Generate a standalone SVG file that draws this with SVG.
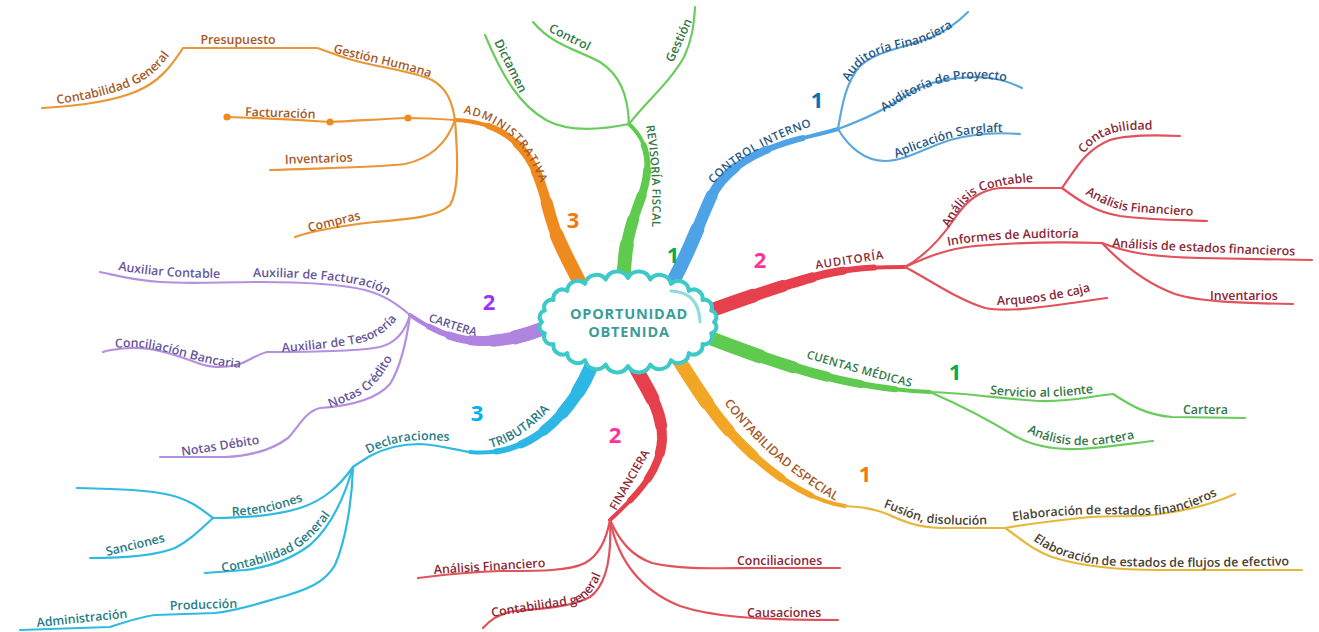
<svg xmlns="http://www.w3.org/2000/svg" width="1319" height="632" viewBox="0 0 1319 632">
<style>
.m{fill:none;stroke-linecap:round;stroke-linejoin:round}
.w1{stroke-width:4}
.w2{stroke-width:6;stroke-dasharray:86 300}
.w3{stroke-width:8;stroke-dasharray:72 300}
.w4{stroke-width:10;stroke-dasharray:58 300}
.w5{stroke-width:12;stroke-dasharray:44 300}
.w6{stroke-width:14;stroke-dasharray:30 300}
.s{fill:none;stroke-width:2.2;stroke-linecap:round;stroke-linejoin:round}
.or{stroke:#ef8a1f}.gr{stroke:#5fcb4e}.bl{stroke:#4ea3e6}.rd{stroke:#e6404c}.ye{stroke:#f2a626}.cy{stroke:#2cb7e4}.pu{stroke:#b083e0}
.sor{stroke:#eb9634}.sgr{stroke:#6bcc5e}.sbl{stroke:#5ca8da}.srd{stroke:#e2525c}.sye{stroke:#e6b83a}.scy{stroke:#2fbbe0}.spu{stroke:#b590e0}
.t{font-family:"Open Sans","Noto Sans","DejaVu Sans",sans-serif;font-size:12.4px;font-weight:600}
.c{font-size:11.5px}
.n{font-family:"Open Sans","Noto Sans","DejaVu Sans",sans-serif;font-size:22px;font-weight:700;text-anchor:middle}
.fo{fill:#a55a2a}.fg{fill:#337846}.fb{fill:#2a5886}.fr{fill:#8a2836}.fy{fill:#4a4032}.fc{fill:#267c86}.fp{fill:#67569a}
</style>
<defs>
<path id="mAdmin" pathLength="100" d="M588,300 C572,265 558,245 550,215 C542,185 535,160 515,142 C500,128 480,121 455,120"/>
<path id="mRev" pathLength="100" d="M624,300 C622,255 628,232 640,200 C652,170 650,143 629,124"/>
<path id="mCI" pathLength="100" d="M662,300 C685,265 698,225 712,195 C728,165 760,150 795,140 C815,135 828,132 838,129"/>
<path id="mAud" pathLength="100" d="M690,318 C740,300 790,282 830,273 C860,267 885,267 905,267"/>
<path id="mCM" pathLength="100" d="M690,330 C740,350 800,372 850,382 C880,388 905,391 930,392"/>
<path id="mCE" pathLength="100" d="M665,340 C688,372 703,402 730,432 C765,470 805,500 845,506"/>
<path id="mFin" pathLength="100" d="M625,345 C638,380 663,402 662,440 C660,472 636,496 610,520"/>
<path id="mTrib" pathLength="100" d="M600,340 C590,380 565,420 530,440 C510,451 490,454 470,452"/>
<path id="mCart" pathLength="100" d="M560,322 C535,332 510,342 480,341 C452,340 432,330 410,315"/>

<path id="tpAdmin" d="M463,113 C488,118 508,130 521,147 C532,162 539,178 546,198 l4,12"/>
<path id="tpRev" d="M646,126 C652,160 654,200 651,245"/>
<path id="tpCI" d="M713,184 Q750,145 822,123 l8,-2"/>
<path id="tpAud" d="M816,269 L895,257"/>
<path id="tpCM" d="M806,358 Q860,374 918,389"/>
<path id="tpCE" d="M724,403 C752,440 786,472 834,500 l8,4"/>
<path id="tpFin" d="M616,511 L656,442"/>
<path id="tpTrib" d="M491,448 Q522,440 552,407"/>
<path id="tpCart" d="M428,321 Q453,330 482,338"/>

<path id="tpGH" d="M333,52 C360,61 400,66 437,80 l8,4"/>
<path id="tpCG1" d="M57,104 C95,99 120,92 140,82 C155,74 163,64 172,52 l6,-9"/>
<path id="tpComp" d="M309,232 L370,217"/>
<path id="tpDict" d="M494,42 L527,108"/>
<path id="tpCtrl" d="M548,31 L598,56"/>
<path id="tpGest" d="M673,63 L697,11"/>
<path id="tpAF" d="M849,82 C858,62 876,53 902,48 C928,43 948,32 968,16 l8,-6"/>
<path id="tpAP" d="M884,112 C905,98 925,86 950,81 C970,77 990,78 1015,83"/>
<path id="tpAS" d="M896,158 C920,148 945,138 970,134 C985,132 995,132 1014,132"/>
<path id="tpAC" d="M949,228 C958,210 968,196 985,190 C1005,184 1025,181 1058,182"/>
<path id="tpContab" d="M1084,154 C1095,138 1110,132 1130,130 L1178,129"/>
<path id="tpAF2" d="M1085,194 C1100,203 1115,210 1135,212 L1212,217"/>
<path id="tpIA" d="M948,246 Q1000,236 1098,238"/>
<path id="tpAEF" d="M1112,247 C1160,250 1220,253 1308,256"/>
<path id="tpArq" d="M997,305 C1030,304 1060,300 1098,289"/>
<path id="tpSC" d="M990,394 Q1040,401 1108,391"/>
<path id="tpAdC" d="M1027,432 C1045,442 1065,446 1090,445 C1110,444 1125,441 1148,435"/>
<path id="tpFD" d="M883,507 C900,513 910,520 930,523 C950,525 970,525 998,524"/>
<path id="tpEEF" d="M1013,521 C1050,515 1090,513 1140,515 C1170,516 1195,508 1232,488"/>
<path id="tpEFE" d="M1033,540 C1050,553 1070,560 1100,565 C1150,568 1220,567 1298,565"/>
<path id="tpFinAF" d="M434,574 L560,566"/>
<path id="tpCGen" d="M492,617 C520,612 550,608 575,604 C588,600 597,588 606,562"/>
<path id="tpDecl" d="M368,454 C385,445 400,441 420,440 C435,440 445,441 468,442"/>
<path id="tpRet" d="M232,516 C255,515 280,511 310,498"/>
<path id="tpSanc" d="M107,556 L172,540"/>
<path id="tpCG2" d="M222,572 C250,568 275,560 295,550 C310,540 320,530 336,507"/>
<path id="tpAdm" d="M37,627 L135,617"/>
<path id="tpAuxF" d="M253,277 C300,277 340,280 365,286 C378,290 387,294 400,304"/>
<path id="tpAuxC" d="M118,270 C140,274 170,278 228,278"/>
<path id="tpAuxT" d="M282,352 C310,350 340,347 360,343 C378,338 390,330 403,311"/>
<path id="tpConcB" d="M115,348 C140,345 160,350 185,357 C205,363 225,368 250,368"/>
<path id="tpNC" d="M330,408 C345,402 360,397 372,387 C382,377 388,367 397,349"/>
<path id="tpND" d="M182,456 L265,443"/>
</defs>

<g id="connectors">
  <g id="main-branches">
    <use href="#mAdmin" class="m w1 or"/><use href="#mAdmin" class="m w2 or"/><use href="#mAdmin" class="m w3 or"/><use href="#mAdmin" class="m w4 or"/><use href="#mAdmin" class="m w5 or"/><use href="#mAdmin" class="m w6 or"/>
    <use href="#mRev" class="m w1 gr"/><use href="#mRev" class="m w2 gr"/><use href="#mRev" class="m w3 gr"/><use href="#mRev" class="m w4 gr"/><use href="#mRev" class="m w5 gr"/><use href="#mRev" class="m w6 gr"/>
    <use href="#mCI" class="m w1 bl"/><use href="#mCI" class="m w2 bl"/><use href="#mCI" class="m w3 bl"/><use href="#mCI" class="m w4 bl"/><use href="#mCI" class="m w5 bl"/><use href="#mCI" class="m w6 bl"/>
    <use href="#mAud" class="m w1 rd"/><use href="#mAud" class="m w2 rd"/><use href="#mAud" class="m w3 rd"/><use href="#mAud" class="m w4 rd"/><use href="#mAud" class="m w5 rd"/><use href="#mAud" class="m w6 rd"/>
    <use href="#mCM" class="m w1 gr"/><use href="#mCM" class="m w2 gr"/><use href="#mCM" class="m w3 gr"/><use href="#mCM" class="m w4 gr"/><use href="#mCM" class="m w5 gr"/><use href="#mCM" class="m w6 gr"/>
    <use href="#mCE" class="m w1 ye"/><use href="#mCE" class="m w2 ye"/><use href="#mCE" class="m w3 ye"/><use href="#mCE" class="m w4 ye"/><use href="#mCE" class="m w5 ye"/><use href="#mCE" class="m w6 ye"/>
    <use href="#mFin" class="m w1 rd"/><use href="#mFin" class="m w2 rd"/><use href="#mFin" class="m w3 rd"/><use href="#mFin" class="m w4 rd"/><use href="#mFin" class="m w5 rd"/><use href="#mFin" class="m w6 rd"/>
    <use href="#mTrib" class="m w1 cy"/><use href="#mTrib" class="m w2 cy"/><use href="#mTrib" class="m w3 cy"/><use href="#mTrib" class="m w4 cy"/><use href="#mTrib" class="m w5 cy"/><use href="#mTrib" class="m w6 cy"/>
    <use href="#mCart" class="m w1 pu"/><use href="#mCart" class="m w2 pu"/><use href="#mCart" class="m w3 pu"/><use href="#mCart" class="m w4 pu"/><use href="#mCart" class="m w5 pu"/><use href="#mCart" class="m w6 pu"/>
  </g>
  <g id="sub-administrativa">
    <path class="s sor" d="M455,120 C452,100 446,88 432,80 C415,72 385,68 360,62 C340,57 330,52 317,48 L183,48 C172,65 160,82 135,92 C110,102 80,106 42,108"/>
    <path class="s sor" d="M455,120 C440,119 420,118 408,118 C380,119 355,121 330,122 C300,120 260,118 227,117"/>
    <path class="s sor" d="M455,120 C447,143 432,158 405,164 C370,168 320,168 270,170"/>
    <path class="s sor" d="M455,120 C458,160 459,190 450,205 C438,217 410,219 375,222 C340,226 312,231 295,237"/>
    <circle cx="408" cy="118" r="3.6" fill="#ef8a1f"/>
    <circle cx="330" cy="122" r="3.6" fill="#ef8a1f"/>
    <circle cx="227" cy="117" r="3.6" fill="#ef8a1f"/>
  </g>
  <g id="sub-revisoria">
    <path class="s sgr" d="M629,124 C600,130 568,132 546,120 C520,105 503,78 485,35"/>
    <path class="s sgr" d="M629,124 C628,95 620,75 600,62 C578,50 552,45 533,22"/>
    <path class="s sgr" d="M629,124 C648,100 670,82 684,57 C692,40 694,25 695,7"/>
  </g>
  <g id="sub-control">
    <path class="s sbl" d="M838,129 C842,105 846,82 860,66 C878,50 905,48 932,37 C948,30 958,22 968,12"/>
    <path class="s sbl" d="M838,129 C860,121 882,112 905,96 C928,80 960,75 990,78 C1005,80 1014,84 1022,88"/>
    <path class="s sbl" d="M838,129 C848,146 864,161 885,161 C905,161 925,148 950,140 C972,134 995,132 1020,134"/>
  </g>
  <g id="sub-auditoria">
    <path class="s srd" d="M905,267 C925,256 940,240 955,218 C967,200 980,190 1000,188 L1062,188"/>
    <path class="s srd" d="M1062,188 C1075,170 1085,150 1110,140 C1130,134 1160,135 1180,136"/>
    <path class="s srd" d="M1062,188 C1078,200 1095,212 1120,216 C1150,220 1180,220 1207,221"/>
    <path class="s srd" d="M905,267 C925,258 945,249 975,246 C1020,242 1070,242 1102,243"/>
    <path class="s srd" d="M1102,243 C1125,252 1150,257 1200,258 L1312,260"/>
    <path class="s srd" d="M1102,243 C1120,262 1145,283 1175,294 C1200,302 1240,303 1293,304"/>
    <path class="s srd" d="M905,267 C930,280 958,300 985,308 C1010,313 1050,306 1107,298"/>
  </g>
  <g id="sub-cuentas">
    <path class="s sgr" d="M930,392 C970,393 1000,399 1040,401 C1070,402 1092,396 1113,394"/>
    <path class="s sgr" d="M1113,394 C1130,405 1146,415 1172,417 L1245,418"/>
    <path class="s sgr" d="M930,392 C960,405 992,422 1015,436 C1032,446 1052,450 1080,449 C1110,447 1135,443 1153,441"/>
  </g>
  <g id="sub-especial">
    <path class="s sye" d="M845,506 C860,507 872,508 887,514 C903,521 915,527 940,528 L1005,528"/>
    <path class="s sye" d="M1005,528 C1040,522 1060,520 1090,517 C1120,515 1135,518 1160,514 C1190,510 1215,503 1235,494"/>
    <path class="s sye" d="M1005,528 C1020,538 1032,550 1052,557 C1080,566 1120,570 1160,570 L1302,570"/>
  </g>
  <g id="sub-financiera">
    <path class="s srd" d="M610,520 C606,542 598,556 585,563 C570,571 540,571 500,571 C470,572 440,575 418,578"/>
    <path class="s srd" d="M610,520 C612,560 606,585 590,597 C572,607 540,609 515,611 C500,613 490,620 483,628"/>
    <path class="s srd" d="M610,520 C620,542 632,556 652,563 C682,570 720,568 760,568 L840,568"/>
    <path class="s srd" d="M610,520 C618,560 640,590 680,606 C710,616 750,620 838,620"/>
  </g>
  <g id="sub-tributaria">
    <path class="s scy" d="M470,452 C455,450 440,445 420,444 C400,444 385,448 370,456 C362,461 357,464 353,467"/>
    <path class="s scy" d="M353,467 C340,485 325,500 300,508 C275,516 245,518 213,518"/>
    <path class="s scy" d="M213,518 C200,508 190,500 170,495 C150,490 120,489 77,488"/>
    <path class="s scy" d="M213,518 C200,530 190,540 175,548 C155,556 120,558 90,558"/>
    <path class="s scy" d="M353,467 C345,495 333,525 310,545 C290,560 270,567 245,570 L205,573"/>
    <path class="s scy" d="M353,467 C352,500 346,540 335,565 C325,583 305,590 285,596 C260,603 240,610 215,613 L155,615 C140,617 125,622 110,627 L20,630"/>
  </g>
  <g id="sub-cartera">
    <path class="s spu" d="M410,315 C398,305 385,295 365,290 C340,284 300,282 260,282 C220,282 190,284 160,282 C130,280 115,275 100,272"/>
    <path class="s spu" d="M410,315 C405,332 396,343 380,347 C360,351 320,352 267,352 C255,355 248,362 237,365 C222,368 210,368 195,362 C170,353 150,347 130,348 C115,349 108,350 103,352"/>
    <path class="s spu" d="M410,315 C406,345 400,368 390,384 C376,400 350,406 320,408 C305,412 300,425 288,438 C272,450 250,456 225,457 L160,457"/>
  </g>
</g>

<g id="center">
  <path d="M714,322 A6.5,6.5 0 0 1 711.1,333.4 A7.5,7.5 0 0 1 702.5,344 A9,9 0 0 1 688.8,353.1 A10.5,10.5 0 0 1 671,360.1 A11.7,11.7 0 0 1 650.3,364.5 A12.3,12.3 0 0 1 628,366 A12.3,12.3 0 0 1 605.7,364.5 A11.7,11.7 0 0 1 585,360.1 A10.5,10.5 0 0 1 567.2,353.1 A9,9 0 0 1 553.5,344 A7.5,7.5 0 0 1 544.9,333.4 A6.5,6.5 0 0 1 542,322 A6.5,6.5 0 0 1 544.9,310.6 A7.5,7.5 0 0 1 553.5,300 A9,9 0 0 1 567.2,290.9 A10.5,10.5 0 0 1 585,283.9 A11.7,11.7 0 0 1 605.7,279.5 A12.3,12.3 0 0 1 628,278 A12.3,12.3 0 0 1 650.3,279.5 A11.7,11.7 0 0 1 671,283.9 A10.5,10.5 0 0 1 688.8,290.9 A9,9 0 0 1 702.5,300 A7.5,7.5 0 0 1 711.1,310.6 A6.5,6.5 0 0 1 714,322 Z" fill="#ffffff" stroke="#3ec9c9" stroke-width="4" stroke-linejoin="round"/>
  <path d="M671,291 Q699,292 700,322" fill="none" stroke="#8fdcdc" stroke-width="3" stroke-linecap="round"/>
  <text x="629" y="319" text-anchor="middle" font-family="'Open Sans','Noto Sans','DejaVu Sans',sans-serif" font-size="14.5" font-weight="700" letter-spacing="0.8" fill="#3c9c98">OPORTUNIDAD</text>
  <text x="629" y="337" text-anchor="middle" font-family="'Open Sans','Noto Sans','DejaVu Sans',sans-serif" font-size="14.5" font-weight="700" letter-spacing="0.8" fill="#3c9c98">OBTENIDA</text>
</g>

<g id="n-administrativa"><text class="t c fo" letter-spacing="1.1"><textPath href="#tpAdmin">ADMINISTRATIVA</textPath></text></g>
<g id="n-revisoria"><text class="t c fg" letter-spacing="0.2"><textPath href="#tpRev">REVISORÍA FISCAL</textPath></text></g>
<g id="n-control-interno"><text class="t c fb" letter-spacing="0.5"><textPath href="#tpCI">CONTROL INTERNO</textPath></text></g>
<g id="n-auditoria"><text class="t c fr" letter-spacing="0.8"><textPath href="#tpAud">AUDITORÍA</textPath></text></g>
<g id="n-cuentas-medicas"><text class="t c fg" letter-spacing="0.3"><textPath href="#tpCM">CUENTAS MÉDICAS</textPath></text></g>
<g id="n-contabilidad-especial"><text class="t fo" font-size="11"><textPath href="#tpCE">CONTABILIDAD ESPECIAL</textPath></text></g>
<g id="n-financiera"><text class="t c fr"><textPath href="#tpFin">FINANCIERA</textPath></text></g>
<g id="n-tributaria"><text class="t fc" font-size="11"><textPath href="#tpTrib">TRIBUTARIA</textPath></text></g>
<g id="n-cartera"><text class="t c fp"><textPath href="#tpCart">CARTERA</textPath></text></g>

<g id="n-gestion-humana"><text class="t fo"><textPath href="#tpGH">Gestión Humana</textPath></text></g>
<g id="n-presupuesto"><text class="t fo" x="238" y="44" text-anchor="middle">Presupuesto</text></g>
<g id="n-contabilidad-general-adm"><text class="t fo"><textPath href="#tpCG1">Contabilidad General</textPath></text></g>
<g id="n-facturacion"><text class="t fo" x="245" y="116" transform="rotate(2 245 116)">Facturación</text></g>
<g id="n-inventarios-adm"><text class="t fo" x="285" y="164" transform="rotate(-2 285 164)">Inventarios</text></g>
<g id="n-compras"><text class="t fo"><textPath href="#tpComp">Compras</textPath></text></g>

<g id="n-dictamen"><text class="t fg"><textPath href="#tpDict">Dictamen</textPath></text></g>
<g id="n-control"><text class="t fg"><textPath href="#tpCtrl">Control</textPath></text></g>
<g id="n-gestion"><text class="t fg"><textPath href="#tpGest">Gestión</textPath></text></g>

<g id="n-auditoria-financiera"><text class="t fb"><textPath href="#tpAF">Auditoría Financiera</textPath></text></g>
<g id="n-auditoria-proyecto"><text class="t fb"><textPath href="#tpAP">Auditoría de Proyecto</textPath></text></g>
<g id="n-aplicacion-sarglaft"><text class="t fb"><textPath href="#tpAS">Aplicación Sarglaft</textPath></text></g>

<g id="n-analisis-contable"><text class="t fr"><textPath href="#tpAC">Análisis Contable</textPath></text></g>
<g id="n-contabilidad"><text class="t fr"><textPath href="#tpContab">Contabilidad</textPath></text></g>
<g id="n-analisis-financiero-aud"><text class="t fr"><textPath href="#tpAF2">Análisis Financiero</textPath></text></g>
<g id="n-informes-auditoria"><text class="t fr"><textPath href="#tpIA">Informes de Auditoría</textPath></text></g>
<g id="n-analisis-estados"><text class="t fr"><textPath href="#tpAEF">Análisis de estados financieros</textPath></text></g>
<g id="n-inventarios-aud"><text class="t fr" x="1210" y="300">Inventarios</text></g>
<g id="n-arqueos"><text class="t fr"><textPath href="#tpArq">Arqueos de caja</textPath></text></g>

<g id="n-servicio-cliente"><text class="t fg"><textPath href="#tpSC">Servicio al cliente</textPath></text></g>
<g id="n-cartera-cm"><text class="t fg" x="1183" y="414">Cartera</text></g>
<g id="n-analisis-cartera"><text class="t fg"><textPath href="#tpAdC">Análisis de cartera</textPath></text></g>

<g id="n-fusion"><text class="t fy"><textPath href="#tpFD">Fusión, disolución</textPath></text></g>
<g id="n-elab-estados"><text class="t fy"><textPath href="#tpEEF">Elaboración de estados financieros</textPath></text></g>
<g id="n-elab-flujos"><text class="t fy"><textPath href="#tpEFE">Elaboración de estados de flujos de efectivo</textPath></text></g>

<g id="n-analisis-financiero-fin"><text class="t fr"><textPath href="#tpFinAF">Análisis Financiero</textPath></text></g>
<g id="n-contabilidad-general-fin"><text class="t fr"><textPath href="#tpCGen">Contabilidad general</textPath></text></g>
<g id="n-conciliaciones"><text class="t fr" x="737" y="565">Conciliaciones</text></g>
<g id="n-causaciones"><text class="t fr" x="747" y="617">Causaciones</text></g>

<g id="n-declaraciones"><text class="t fc"><textPath href="#tpDecl">Declaraciones</textPath></text></g>
<g id="n-retenciones"><text class="t fc"><textPath href="#tpRet">Retenciones</textPath></text></g>
<g id="n-sanciones"><text class="t fc"><textPath href="#tpSanc">Sanciones</textPath></text></g>
<g id="n-contabilidad-general-trib"><text class="t fc"><textPath href="#tpCG2">Contabilidad General</textPath></text></g>
<g id="n-produccion"><text class="t fc" x="170" y="610" transform="rotate(-2 170 610)">Producción</text></g>
<g id="n-administracion"><text class="t fc"><textPath href="#tpAdm">Administración</textPath></text></g>

<g id="n-aux-facturacion"><text class="t fp"><textPath href="#tpAuxF">Auxiliar de Facturación</textPath></text></g>
<g id="n-aux-contable"><text class="t fp"><textPath href="#tpAuxC">Auxiliar Contable</textPath></text></g>
<g id="n-aux-tesoreria"><text class="t fp"><textPath href="#tpAuxT">Auxiliar de Tesorería</textPath></text></g>
<g id="n-conciliacion-bancaria"><text class="t fp"><textPath href="#tpConcB">Conciliación Bancaria</textPath></text></g>
<g id="n-notas-credito"><text class="t fp"><textPath href="#tpNC">Notas Crédito</textPath></text></g>
<g id="n-notas-debito"><text class="t fp"><textPath href="#tpND">Notas Débito</textPath></text></g>

<g id="numbers">
  <text class="n" x="573" y="228" fill="#f07a10">3</text>
  <text class="n" x="673" y="263" fill="#00b050">1</text>
  <text class="n" x="817" y="108" fill="#0070c0">1</text>
  <text class="n" x="760" y="268" fill="#ff3399">2</text>
  <text class="n" x="489" y="310" fill="#9933ff">2</text>
  <text class="n" x="955" y="380" fill="#00b050">1</text>
  <text class="n" x="477" y="421" fill="#00b0f0">3</text>
  <text class="n" x="615" y="443" fill="#ff3399">2</text>
  <text class="n" x="865" y="482" fill="#f07a10">1</text>
</g>
</svg>
